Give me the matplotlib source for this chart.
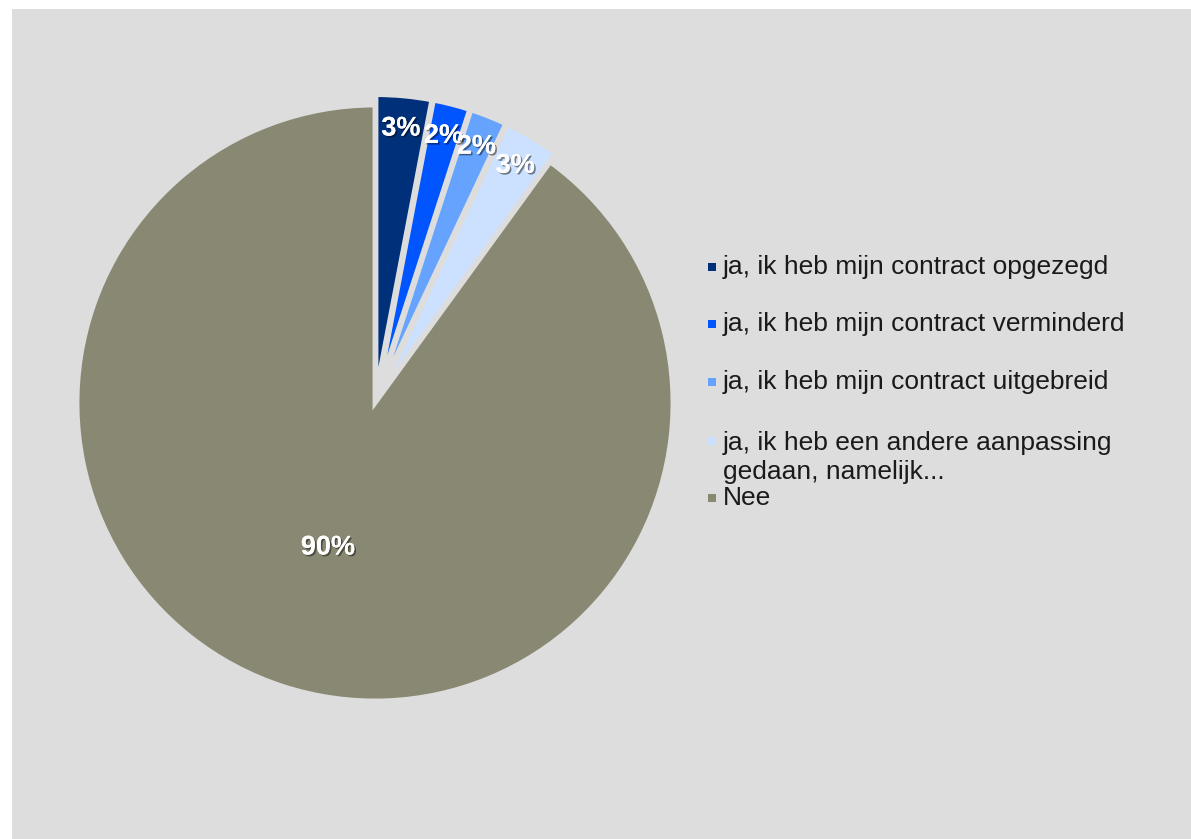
import numpy as np
import matplotlib.pyplot as plt
import matplotlib.patheffects as pe
from matplotlib.patches import Rectangle

plt.rcParams['font.family'] = ['Liberation Sans', 'DejaVu Sans']

# data
categories = [
    "ja, ik heb mijn contract opgezegd",
    "ja, ik heb mijn contract verminderd",
    "ja, ik heb mijn contract uitgebreid",
    "ja, ik heb een andere aanpassing\ngedaan, namelijk...",
    "Nee",
]
values = [3.0, 2.0, 2.0, 3.0, 90.0]
pct_labels = ["3%", "2%", "2%", "3%", "90%"]
colors = ["#00307A", "#0055FF", "#66A3FF", "#CCE0FF", "#898973"]
explode = [0.035, 0.035, 0.035, 0.035, 0.0]

W, H = 1191, 839
bg = "#DDDDDD"
fig = plt.figure(figsize=(W / 100, H / 100), dpi=100)
fig.patch.set_facecolor("white")
fig.patches.append(Rectangle((12 / W, 0), 1 - 12 / W, 1 - 9 / H, transform=fig.transFigure,
                             facecolor=bg, edgecolor="none", zorder=-5))

# pie axes, centre (374, 404) px, radius 298 px
cx, cy, R = 375, 403, 298
lim = 1.1
ax = fig.add_axes([(cx - R * lim) / W, 1 - (cy + R * lim) / H, 2 * R * lim / W, 2 * R * lim / H])
ax.patch.set_visible(False)

wedges, _ = ax.pie(values, colors=colors, explode=explode, startangle=90, counterclock=False,
                   radius=1.0, wedgeprops=dict(edgecolor=bg, linewidth=3.5))
ax.set_xlim(-lim, lim)
ax.set_ylim(-lim, lim)
ax.set_aspect("equal")
ax.axis("off")

shadow = [pe.withSimplePatchShadow(offset=(1.2, -1.2), shadow_rgbFace="black", alpha=0.45), pe.Normal()]
for w, lab, ex in zip(wedges, pct_labels, explode):
    mid = np.deg2rad((w.theta1 + w.theta2) / 2)
    dist = 0.51 if lab == "90%" else 0.89 + ex
    ax.text(dist * np.cos(mid), dist * np.sin(mid), lab, ha="center", va="center",
            color="white", fontsize=19.5, fontweight="bold", path_effects=shadow)

# legend, drawn manually to match the uneven spacing
ys = [267, 324, 382, 441, 498]
for cat, col, y in zip(categories, colors, ys):
    fig.patches.append(Rectangle((708 / W, 1 - (y + 4) / H), 8 / W, 8 / H,
                                 transform=fig.transFigure, facecolor=col, edgecolor="none"))
    if "\n" in cat:
        fig.text(723 / W, 1 - (y - 10) / H, cat, ha="left", va="top",
                 fontsize=19, color="#1a1a1a", linespacing=1.25)
    else:
        fig.text(723 / W, 1 - y / H, cat, ha="left", va="center",
                 fontsize=19, color="#1a1a1a")

fig.savefig("out.png", dpi=100, facecolor=fig.get_facecolor())
